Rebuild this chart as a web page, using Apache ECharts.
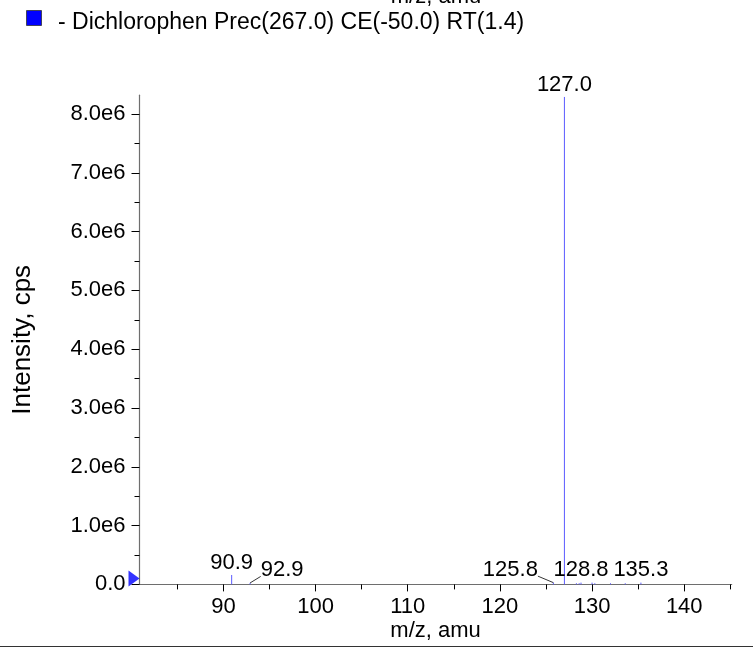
<!DOCTYPE html>
<html>
<head>
<meta charset="utf-8">
<script src="https://cdn.jsdelivr.net/npm/echarts@6/dist/echarts.min.js"></script>
<style>
html,body{margin:0;padding:0;background:#fff;}
#chart{width:753px;height:651px;}
</style>
</head>
<body>
<div id="chart"></div>
<script>
// ---- data ----
const mz = [90.9, 92.9, 125.8, 127.0, 128.3, 128.6, 128.8, 130.0, 130.3, 132.0, 133.6, 135.3];
const intensity = [160000, 25000, 30000, 8290000, 20000, 20000, 30000, 30000, 20000, 20000, 20000, 30000];
const labelledMz = [90.9, 92.9, 125.8, 127.0, 128.8, 135.3];
const xMajorTicks = [90, 100, 110, 120, 130, 140];
const xMinorTicks = [85, 95, 105, 115, 125, 135, 145];
const yMajorTicks = [0, 1e6, 2e6, 3e6, 4e6, 5e6, 6e6, 7e6, 8e6];
const yMinorTicks = [5e5, 1.5e6, 2.5e6, 3.5e6, 4.5e6, 5.5e6, 6.5e6, 7.5e6];
const xRange = [80.9, 145.15];
const yRange = [0, 8.32e6];
const seriesName = '- Dichlorophen Prec(267.0) CE(-50.0) RT(1.4)';
const xTitle = 'm/z, amu';
const yTitle = 'Intensity, cps';

// label shift (style): horizontal displacement of some peak labels, px
const labelShift = {'92.9': 32, '125.8': -43};

const FONT = 'Liberation Sans, Arial, Helvetica, sans-serif';
const FS = 22;
const mctx = document.createElement('canvas').getContext('2d');
mctx.font = FS + 'px ' + FONT;

const peakData = mz.map((m, i) => [m, intensity[i]]);
const labelData = labelledMz.map(m => [m, intensity[mz.indexOf(m)], m.toFixed(1)]);

const chart = echarts.init(document.getElementById('chart'));
const axisGray = '#6e6e6e';
const yFmt = v => v === 0 ? '0.0' : (v / 1e6).toFixed(1) + 'e6';

const option = {
  animation: false,
  grid: {left: 139.5, right: 21.3, top: 95.2, bottom: 66.6},
  graphic: [
    {type: 'text', x: 436, y: -3, style: {text: xTitle, font: FS + 'px ' + FONT, fill: '#000', align: 'center', verticalAlign: 'middle'}},
    {type: 'rect', shape: {x: 26.5, y: 10.5, width: 15, height: 15}, style: {fill: '#0000ff', stroke: '#333', lineWidth: 0.8}},
    {type: 'text', x: 58, y: 22.5, style: {text: seriesName, font: '23px ' + FONT, fill: '#000', verticalAlign: 'middle'}},
    {type: 'line', shape: {x1: 0, y1: 646.5, x2: 753, y2: 646.5}, style: {stroke: '#333', lineWidth: 1.2}}
  ],
  xAxis: [
    {
      type: 'value', min: xRange[0], max: xRange[1],
      axisLine: {show: true, lineStyle: {color: axisGray, width: 1.2}},
      axisTick: {show: true, length: 5, customValues: xMinorTicks, lineStyle: {color: '#000', width: 1}},
      axisLabel: {show: false},
      splitLine: {show: false},
      name: xTitle, nameLocation: 'middle', nameGap: 36,
      nameTextStyle: {fontFamily: FONT, fontSize: FS, color: '#000'}
    },
    {
      type: 'value', min: xRange[0], max: xRange[1], position: 'bottom',
      axisLine: {show: false},
      axisTick: {show: true, length: 7, customValues: xMajorTicks, lineStyle: {color: '#000', width: 1}},
      axisLabel: {show: true, customValues: xMajorTicks, margin: 12, fontFamily: FONT, fontSize: FS, color: '#000'},
      splitLine: {show: false}
    }
  ],
  yAxis: [
    {
      type: 'value', min: yRange[0], max: yRange[1],
      axisLine: {show: true, lineStyle: {color: axisGray, width: 1.2}},
      axisTick: {show: true, length: 5, customValues: yMinorTicks, lineStyle: {color: '#000', width: 1}},
      axisLabel: {show: false},
      splitLine: {show: false},
      name: yTitle, nameLocation: 'middle', nameGap: 104,
      nameTextStyle: {fontFamily: FONT, fontSize: 26, color: '#000'}
    },
    {
      type: 'value', min: yRange[0], max: yRange[1], position: 'left',
      axisLine: {show: false},
      axisTick: {show: true, length: 8, customValues: yMajorTicks, lineStyle: {color: '#000', width: 1}},
      axisLabel: {show: true, customValues: yMajorTicks, margin: 14, formatter: yFmt, fontFamily: FONT, fontSize: FS, color: '#000'},
      splitLine: {show: false}
    }
  ],
  series: [
    {
      type: 'custom', name: seriesName, xAxisIndex: 0, yAxisIndex: 0, clip: false,
      data: peakData,
      renderItem: (params, api) => {
        const b = api.coord([api.value(0), 0]);
        const t = api.coord([api.value(0), api.value(1)]);
        return {type: 'line', shape: {x1: b[0], y1: b[1], x2: t[0], y2: Math.min(t[1], b[1] - 1)},
                style: {stroke: '#5b5bff', lineWidth: 1}};
      }
    },
    {
      type: 'custom', xAxisIndex: 0, yAxisIndex: 0, clip: false,
      data: labelData,
      renderItem: (params, api) => {
        const m = api.value(0);
        const t = api.coord([m, api.value(1)]);
        const txt = labelData[params.dataIndex][2];
        const dx = labelShift[txt] || 0;
        const cy = t[1] - 12.5;
        const cx = t[0] + dx;
        const children = [{type: 'text', style: {text: txt, x: cx, y: cy, align: 'center', verticalAlign: 'middle', font: FS + 'px ' + FONT, fill: '#000'}}];
        if (dx !== 0) {
          const hw = mctx.measureText(txt).width / 2;
          const ex = dx > 0 ? cx - hw : cx + hw;
          children.push({type: 'line', shape: {x1: t[0], y1: t[1], x2: ex, y2: cy + 6},
                         style: {stroke: '#000', lineWidth: 0.8}});
        }
        return {type: 'group', children};
      }
    },
    {
      type: 'scatter', xAxisIndex: 0, yAxisIndex: 0, clip: false,
      data: [[xRange[0], 0]],
      symbol: 'triangle', symbolSize: [16, 11], symbolRotate: -90, symbolOffset: [-5.5, -6],
      itemStyle: {color: '#0000ff'}, silent: true
    }
  ]
};
chart.setOption(option);
</script>
</body>
</html>
